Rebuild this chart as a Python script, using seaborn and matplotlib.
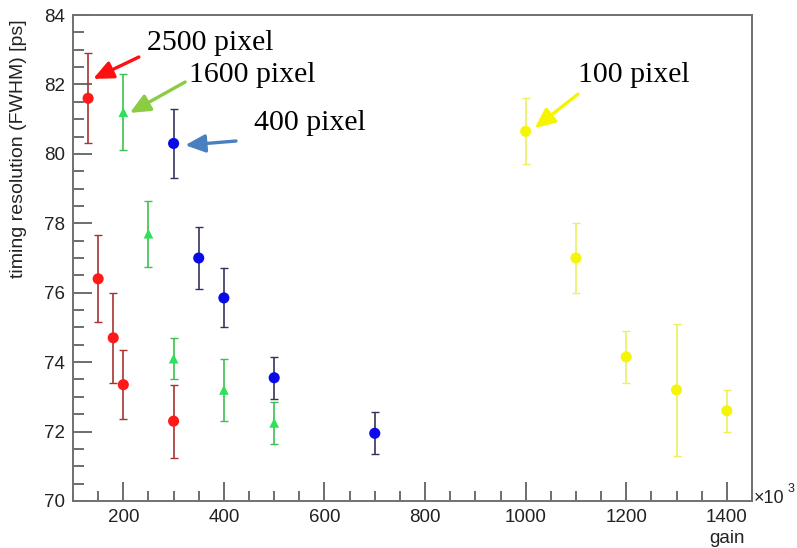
import numpy as np
import pandas as pd
import matplotlib
matplotlib.use("Agg")
import matplotlib.pyplot as plt
import seaborn as sns
from matplotlib.ticker import MultipleLocator

# ---- data ----
x_2500 = [130, 150, 180, 200, 300]
y_2500 = [81.6, 76.4, 74.7, 73.35, 72.3]
e_2500 = [1.3, 1.25, 1.3, 1.0, 1.05]

x_1600 = [200, 250, 300, 400, 500]
y_1600 = [81.2, 77.7, 74.1, 73.2, 72.25]
e_1600 = [1.1, 0.95, 0.6, 0.9, 0.6]

x_400 = [300, 350, 400, 500, 700]
y_400 = [80.3, 77.0, 75.85, 73.55, 71.95]
e_400 = [1.0, 0.9, 0.85, 0.6, 0.6]

x_100 = [1000, 1100, 1200, 1300, 1400]
y_100 = [80.65, 77.0, 74.15, 73.2, 72.6]
e_100 = [0.95, 1.0, 0.75, 1.9, 0.6]

labels = ["2500 pixel", "1600 pixel", "400 pixel", "100 pixel"]

sns.set_theme(style="white")
plt.rcParams['font.family'] = ['Liberation Sans', 'DejaVu Sans']

fig = plt.figure(figsize=(7.97, 5.48), dpi=100)
ax = fig.add_axes([0.0916, 0.0858, 0.8519, 0.8868])

series = [
    (x_2500, y_2500, e_2500, "#ff1a1a", "#a83232", "o", 8),
    (x_1600, y_1600, e_1600, "#2ee05a", "#3cc050", "^", 7),
    (x_400, y_400, e_400, "#0a0ae6", "#33335e", "o", 8),
    (x_100, y_100, e_100, "#f5f50a", "#ecf060", "o", 8),
]
for (xs, ys, es, fc, ec, mk, ms), lab in zip(series, labels):
    ax.errorbar(xs, ys, yerr=es, fmt="none", ecolor=ec, elinewidth=1.2,
                capsize=3, capthick=1.0, zorder=2)
    df = pd.DataFrame({"gain": xs, "res": ys})
    sns.scatterplot(data=df, x="gain", y="res", ax=ax, color=fc, marker=mk,
                    s=ms ** 2, edgecolor="none", zorder=3, legend=False)

ax.set_xlim(100, 1450)
ax.set_ylim(70, 84)
ax.xaxis.set_major_locator(MultipleLocator(200))
ax.xaxis.set_minor_locator(MultipleLocator(50))
ax.yaxis.set_major_locator(MultipleLocator(2))
ax.yaxis.set_minor_locator(MultipleLocator(0.5))
ax.tick_params(axis="both", which="both", direction="in", colors="#555555",
               labelcolor="#222222", labelsize=13.5)
ax.tick_params(axis="x", which="major", length=14, width=1.2, pad=6, bottom=True)
ax.tick_params(axis="x", which="minor", length=7, width=1.2, bottom=True)
ax.tick_params(axis="y", which="major", length=14, width=1.2, pad=6, left=True)
ax.tick_params(axis="y", which="minor", length=8, width=1.2, left=True)
for sp in ax.spines.values():
    sp.set_color("#707070")
    sp.set_linewidth(1.4)
    sp.set_visible(True)

ax.set_xlabel("")
ax.set_ylabel("")
fig.text(0.935, 0.002, "gain", ha="right", va="bottom", fontsize=13.5, color="#222222")
fig.text(0.946, 0.075, "×10", ha="left", va="bottom", fontsize=13, color="#222222")
fig.text(0.9885, 0.097, "3", ha="left", va="bottom", fontsize=9, color="#222222")
fig.text(0.012, 0.965, "timing resolution (FWHM) [ps]", rotation=90, ha="left", va="top",
         fontsize=14, color="#222222")

serif = ['Liberation Serif', 'DejaVu Serif']
ann_text_x = [372, 456, 571, 1215]
ann_text_y = [83.19, 82.27, 80.89, 82.27]
ann_tail_x = [231, 323, 424, 1104]
ann_tail_y = [82.79, 82.07, 80.37, 81.72]
ann_head_x = [140, 213, 323, 1018]
ann_head_y = [82.16, 81.18, 80.25, 80.74]
ann_cols = ["#ff1010", "#8ccc44", "#4a80c0", "#f5f500"]
for i, text in enumerate(labels):
    ax.annotate("", xy=(ann_head_x[i], ann_head_y[i]),
                xytext=(ann_tail_x[i], ann_tail_y[i]),
                arrowprops=dict(arrowstyle="-|>,head_width=0.45,head_length=1.0",
                                color=ann_cols[i], lw=2.4, shrinkA=0, shrinkB=0))
    ax.text(ann_text_x[i], ann_text_y[i], text, ha="center", va="center", fontsize=21.5,
            family=serif, color="black")

fig.savefig("out.png", dpi=100)
